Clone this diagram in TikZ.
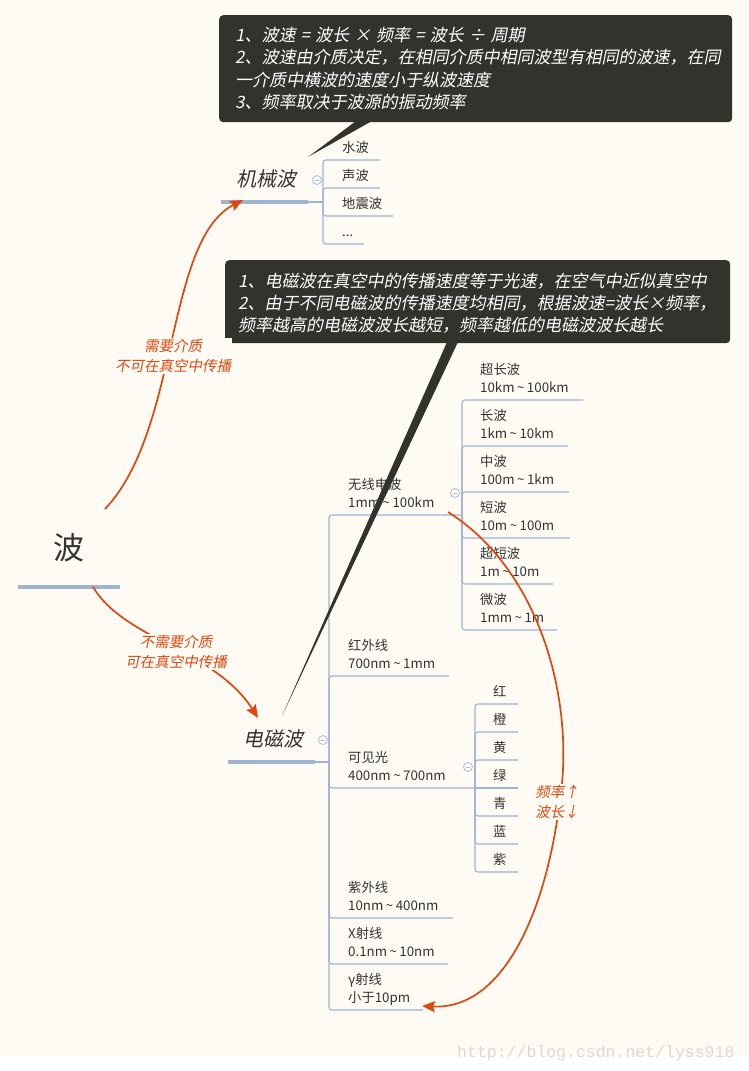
\documentclass[tikz,border=0pt]{standalone}
\usepackage{fontspec}
\setmainfont{Noto Sans CJK SC}
\newfontfamily\cjkit[FakeSlant=0.2]{Noto Sans CJK SC}
\newfontfamily\wmfont{Liberation Mono}
\usetikzlibrary{arrows.meta}
\definecolor{bgc}{RGB}{254,251,244}
\definecolor{lnc}{RGB}{160,179,207}
\definecolor{txc}{RGB}{51,51,51}
\definecolor{cbc}{RGB}{51,51,45}
\definecolor{orc}{RGB}{222,72,16}
\definecolor{clc}{RGB}{172,186,230}
\definecolor{wmc}{RGB}{218,218,218}
\newcommand\tld{\hspace{2.5pt}\textasciitilde\hspace{2.5pt}}
\newcommand\gapsp{\hspace{1.2pt}}
\tikzset{
  itemtext/.style={anchor=base west, inner sep=0pt, text=txc, font=\fontsize{13.3}{16}\selectfont},
  calltext/.style={anchor=base west, inner sep=0pt, text=white, font=\cjkit\fontsize{17}{20}\selectfont},
  lbl/.style={text=orc, fill=bgc, inner sep=1pt, align=center, font=\cjkit\fontsize{14.5}{20}\selectfont},
  conn/.style={draw=lnc, line width=1.1pt, rounded corners=3pt},
  bar/.style={draw=lnc, line width=3.5pt},
  collapse/.style={circle, draw=clc, line width=0.8pt, fill=bgc, minimum size=9pt, inner sep=0pt},
  callout/.style={fill=cbc, rounded corners=4pt, anchor=north west, inner sep=0pt},
  orarrow/.style={draw=orc, line width=1.7pt, -{Stealth[length=13pt, width=11pt, inset=2pt]}},
  topic/.style={anchor=base, inner sep=0pt, text=txc, font=\cjkit\fontsize{20}{24}\selectfont},
}
\newcommand\itemtwo[5]{%
  \node[itemtext] (#1a) at (#2,#3-30+4.8) {#4};
  \node[itemtext] (#1b) at (#2,#3-12+4.8) {#5};}
\newcommand\itemone[4]{%
  \node[itemtext] (#1) at (#2,#3-12+4.8) {#4};}
\newcommand\branch[4]{\draw[conn] (#1,#2) -- (#1,#3) -- (#4,#3);}
\newcommand\collapsemark[3]{%
  \node[collapse] (#1) at (#2,#3) {};
  \draw[clc, line width=0.8pt] (#2-2.3,#3) -- (#2+2.3,#3);}
\begin{document}
\begin{tikzpicture}[x=1pt,y=-1pt]
% background
\fill[white] (0,0) rectangle (748,1071);
\fill[bgc] (0,0) rectangle (748,1056);
\useasboundingbox (0,0) rectangle (748,1071);

% ---------- root ----------
\node[anchor=base, inner sep=0pt, text=txc, font=\fontsize{31}{34}\selectfont] (root) at (69,559) {波};
\draw[draw=lnc, line width=4.5pt] (18,587) -- (120,587);
\coordinate (rootA) at (105,509);
\coordinate (rootB) at (93,587);

% ---------- mechanical waves ----------
\node[topic] (mech) at (266,186.5) {机械波};
\draw[bar] (221,202) -- (308,202);
\draw[conn] (308,202) -- (323,202);
\coordinate (mechTip) at (243,200);
\collapsemark{mechc}{317}{180}
\branch{323}{202}{160}{380}
\branch{323}{202}{188}{380}
\branch{323}{202}{216}{393}
\branch{323}{202}{244}{364}
\itemone{m1}{342}{160}{水波}
\itemone{m2}{342}{188}{声波}
\itemone{m3}{342}{216}{地震波}
\itemone{m4}{342}{244}{...}

% ---------- electromagnetic waves ----------
\node[topic] (em) at (273,746.5) {电磁波};
\draw[bar] (228,762) -- (315,762);
\draw[conn] (315,762) -- (329,762);
\coordinate (emTip) at (258,718);
\collapsemark{emc}{323}{740}
\branch{329}{762}{515}{462}
\branch{329}{762}{676}{449}
\branch{329}{762}{788}{475}
\branch{329}{762}{918}{453}
\branch{329}{762}{964}{448}
\branch{329}{762}{1010}{423}
\itemtwo{radio}{348}{515}{无线电波}{1mm\tld100km}
\itemtwo{ir}{348}{676}{红外线}{700nm\tld1mm}
\itemtwo{vis}{348}{788}{可见光}{400nm\tld700nm}
\itemtwo{uv}{348}{918}{紫外线}{10nm\tld400nm}
\itemtwo{xr}{348}{964}{X射线}{0.1nm\tld10nm}
\itemtwo{gr}{348}{1010}{γ射线}{小于10pm}

% radio sub-branches
\collapsemark{radioc}{455}{493}
\branch{462}{515}{400}{583}
\branch{462}{515}{446}{568}
\branch{462}{515}{492}{569}
\branch{462}{515}{538}{570}
\branch{462}{515}{584}{553}
\branch{462}{515}{630}{557}
\itemtwo{r1}{480}{400}{超长波}{10km\tld100km}
\itemtwo{r2}{480}{446}{长波}{1km\tld10km}
\itemtwo{r3}{480}{492}{中波}{100m\tld1km}
\itemtwo{r4}{480}{538}{短波}{10m\tld100m}
\itemtwo{r5}{480}{584}{超短波}{1m\tld10m}
\itemtwo{r6}{480}{630}{微波}{1mm\tld1m}
\coordinate (radioStart) at (448,512);

% visible sub-branches
\collapsemark{visc}{468}{767}
\branch{475}{788}{704}{518}
\branch{475}{788}{732}{518}
\branch{475}{788}{760}{518}
\draw[conn] (475,788) -- (518,788);
\branch{475}{788}{816}{518}
\branch{475}{788}{844}{518}
\branch{475}{788}{872}{518}
\itemone{v1}{493}{704}{红}
\itemone{v2}{493}{732}{橙}
\itemone{v3}{493}{760}{黄}
\itemone{v4}{493}{788}{绿}
\itemone{v5}{493}{816}{青}
\itemone{v6}{493}{844}{蓝}
\itemone{v7}{493}{872}{紫}
\coordinate (gammaTip) at (422,1006);

% ---------- callout 1 ----------
\node[callout, minimum width=513pt, minimum height=107pt] (call1) at (219,15) {};
\fill[cbc] (356,121) -- (372,121) -- (308,157) -- cycle;
\node[calltext] (c1l1) at (235,41.5) {1、波速\gapsp{} = \gapsp{}波长\gapsp{} × \gapsp{}频率\gapsp{} = \gapsp{}波长\gapsp{} ÷ \gapsp{}周期};
\node[calltext] (c1l2) at (235,63.5) {2、波速由介质决定，在相同介质中相同波型有相同的波速，在同};
\node[calltext] (c1l3) at (235,86) {一介质中横波的速度小于纵波速度};
\node[calltext] (c1l4) at (235,108) {3、频率取决于波源的振动频率};

% ---------- callout 2 ----------
\node[callout, minimum width=505pt, minimum height=83pt] (call2) at (225,260) {};
\fill[cbc] (447,342) -- (458,342) -- (282,716) -- cycle;
\node[calltext] (c2l1) at (238,287) {1、电磁波在真空中的传播速度等于光速，在空气中近似真空中};
\node[calltext] (c2l2) at (238,309) {2、由于不同电磁波的传播速度均相同，根据波速=波长×频率，};
\node[calltext] (c2l3) at (238,331) {频率越高的电磁波波长越短，频率越低的电磁波波长越长};

% ---------- orange relations ----------
\draw[orarrow] (rootA) .. controls (180,430) and (165,240) .. (mechTip);
\node[lbl] (lab1) at (173,356) {需要介质\\不可在真空中传播};
\draw[orarrow] (rootB) .. controls (125,640) and (215,650) .. (emTip);
\node[lbl] (lab2) at (176,652) {不需要介质\\可在真空中传播};
\draw[orarrow] (radioStart) .. controls (540,570) and (575,700) .. (560,800)
   .. controls (545,920) and (500,1010) .. (gammaTip);
\node[lbl] (lab3) at (557,802) {频率↑\\波长↓};

% ---------- watermark ----------
\node[anchor=base west, inner sep=0pt, text=wmc, font=\wmfont\fontsize{16.5}{18}\selectfont] (wm) at (457,1057) {http://blog.csdn.net/lyss918};
\end{tikzpicture}
\end{document}
